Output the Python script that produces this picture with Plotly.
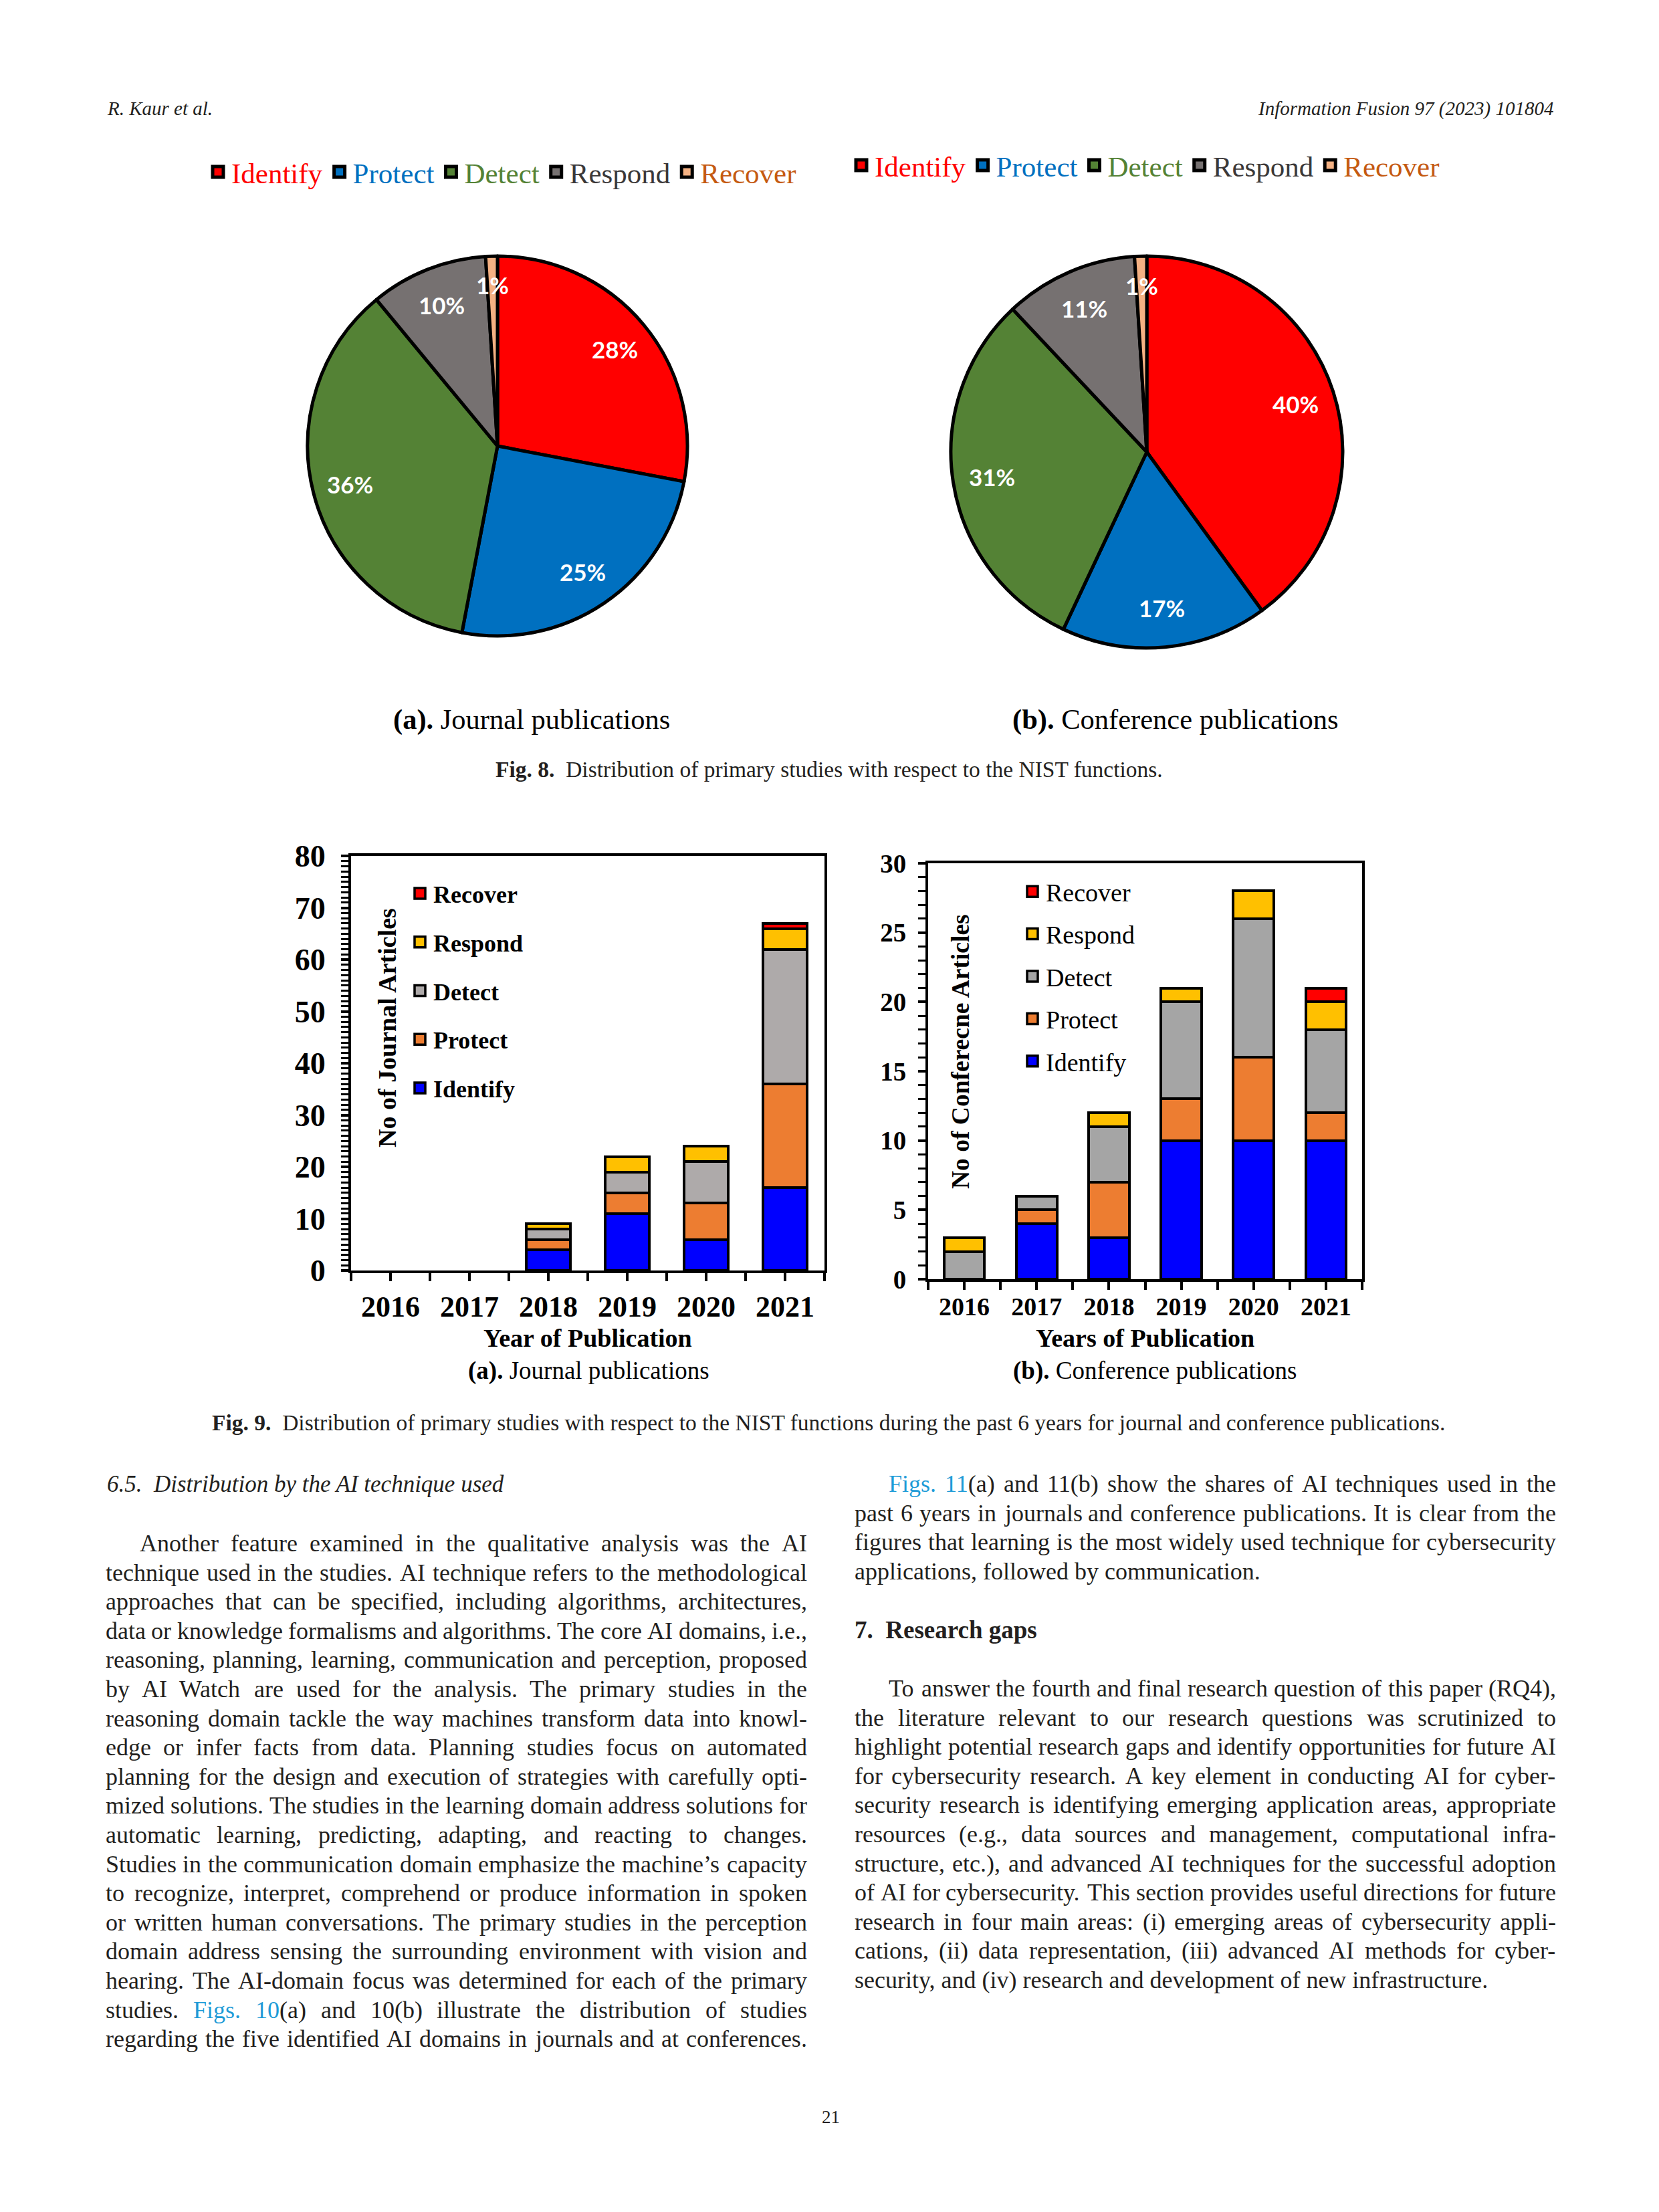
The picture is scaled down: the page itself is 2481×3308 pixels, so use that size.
import math
import re
import plotly.graph_objects as go

W, H = 2481, 3308

# ---------------- data ----------------
functions = ["Identify", "Protect", "Detect", "Respond", "Recover"]
journal_share = [28, 25, 36, 10, 1]
conference_share = [40, 17, 31, 11, 1]

years = [2016, 2017, 2018, 2019, 2020, 2021]
journal_identify = [0, 0, 4, 11, 6, 16]
journal_protect = [0, 0, 2, 4, 7, 20]
journal_detect = [0, 0, 2, 4, 8, 26]
journal_respond = [0, 0, 1, 3, 3, 4]
journal_recover = [0, 0, 0, 0, 0, 1]

conf_identify = [0, 4, 3, 10, 10, 10]
conf_protect = [0, 1, 4, 3, 6, 2]
conf_detect = [2, 1, 4, 7, 10, 6]
conf_respond = [1, 0, 1, 1, 2, 2]
conf_recover = [0, 0, 0, 0, 0, 1]

# ---------------- styles ----------------
pie_colors = ["#FF0000", "#0070C0", "#548235", "#767171", "#F4B183"]
pie_text_colors = ["#FF0000", "#0070C0", "#548235", "#3B3838", "#C55A11"]
bar_colors_a = ["#0000FF", "#ED7D31", "#AEAAAA", "#FFC000", "#FF0000"]
bar_colors_b = ["#0000FF", "#ED7D31", "#A5A5A5", "#FFC000", "#FF0000"]
SERIF = "Liberation Serif"
TXT = "#231F20"
LINK = "#1D9BD7"

# Times (Liberation Serif) advance widths, 1/1000 em
TW = {' ': 250, '!': 333, '"': 408, '#': 500, '$': 500, '%': 833, '&': 778, "'": 180,
      '(': 333, ')': 333, '*': 500, '+': 564, ',': 250, '-': 333, '.': 250, '/': 278,
      ':': 278, ';': 278, '<': 564, '=': 564, '>': 564, '?': 444, '@': 921,
      'A': 722, 'B': 667, 'C': 667, 'D': 722, 'E': 611, 'F': 556, 'G': 722, 'H': 722,
      'I': 333, 'J': 389, 'K': 722, 'L': 611, 'M': 889, 'N': 722, 'O': 722, 'P': 556,
      'Q': 722, 'R': 667, 'S': 556, 'T': 611, 'U': 722, 'V': 722, 'W': 944, 'X': 722,
      'Y': 722, 'Z': 611, '[': 333, ']': 333, 'a': 444, 'b': 500, 'c': 444, 'd': 500,
      'e': 444, 'f': 333, 'g': 500, 'h': 500, 'i': 278, 'j': 278, 'k': 500, 'l': 278,
      'm': 778, 'n': 500, 'o': 500, 'p': 500, 'q': 500, 'r': 333, 's': 389, 't': 278,
      'u': 500, 'v': 500, 'w': 722, 'x': 500, 'y': 500, 'z': 444, '\u2019': 333}


def tw(s, size):
    return sum(TW.get(ch, 500) for ch in s) * size / 1000


def px(x):
    return x / W


def py(y):
    return 1 - y / H


fig = go.Figure()
annotations = []


def add_text(text, x, y, size, xanchor="left", yanchor="middle", color=TXT,
             family=SERIF, angle=0, weight=None, style=None):
    f = dict(family=family, size=size, color=color)
    if weight:
        f["weight"] = weight
    if style:
        f["style"] = style
    annotations.append(dict(text=text, x=px(x), y=py(y), xref="paper", yref="paper",
                            xanchor=xanchor, yanchor=yanchor, showarrow=False,
                            font=f, textangle=angle))


def markup(word):
    return re.sub(r"\{([^}]*)\}", lambda m: f"<span style='color:{LINK}'>{m.group(1)}</span>", word)


def plain(word):
    return word.replace("{", "").replace("}", "")


def body_line(line, x0, x1, y, size, justify=True):
    if not justify:
        add_text(markup(line), x0, y, size)
        return
    words = line.split(" ")
    widths = [tw(plain(w), size) for w in words]
    gap = (x1 - x0 - sum(widths)) / max(len(words) - 1, 1)
    x = x0
    for w, wd in zip(words, widths):
        add_text(markup(w), x, y, size)
        x += wd + gap


def legend_entry(name, color, legend, size, lw, rank, group=None, xaxis="x", yaxis="y"):
    fig.add_trace(go.Scatter(
        x=[None], y=[None], mode="markers", name=name, xaxis=xaxis, yaxis=yaxis,
        marker=dict(symbol="square", size=size, color=color, line=dict(color="black", width=lw)),
        legend=legend, legendgroup=group, legendrank=rank, showlegend=True, hoverinfo="skip"))


# ---------------- pies ----------------
pies = [
    (journal_share, (744, 667), 284, "legend"),
    (conference_share, (1715, 676), 293, "legend2"),
]
for values, (cx, cy), R, leg in pies:
    fig.add_trace(go.Pie(
        labels=functions, values=values, sort=False, direction="clockwise", rotation=0,
        marker=dict(colors=pie_colors, line=dict(color="black", width=5)),
        textinfo="none", hoverinfo="label+value", showlegend=False,
        domain=dict(x=[px(cx - R), px(cx + R)], y=[py(cy + R), py(cy - R)]),
    ))
    for i, (f, c, tc) in enumerate(zip(functions, pie_colors, pie_text_colors)):
        legend_entry(f"<span style='color:{tc}'>{f}</span>", c, leg, 16, 6, 10 + i)
    total = sum(values)
    cum = 0
    for v in values:
        mid = (cum + v / 2) / total * 2 * math.pi
        fr = 0.80 if v > 2 else 0.85
        lx = cx + fr * R * math.sin(mid)
        ly = cy - fr * R * math.cos(mid)
        add_text(f"{v}%", lx, ly, 35, xanchor="center", color="white", family="Lato", weight="bold")
        cum += v

# ---------------- stacked bars ----------------
series_a = [journal_identify, journal_protect, journal_detect, journal_respond, journal_recover]
series_b = [conf_identify, conf_protect, conf_detect, conf_respond, conf_recover]
for i, (name, vals, col) in enumerate(zip(functions, series_a, bar_colors_a)):
    fig.add_trace(go.Bar(x=years, y=[v if v else None for v in vals], name=name, xaxis="x", yaxis="y",
                         marker=dict(color=col, line=dict(color="black", width=4)),
                         legendgroup="a" + name, showlegend=False))
    legend_entry(name, col, "legend3", 16, 3.5, 100 - 10 * i, group="a" + name)
for i, (name, vals, col) in enumerate(zip(functions, series_b, bar_colors_b)):
    fig.add_trace(go.Bar(x=years, y=[v if v else None for v in vals], name=name, xaxis="x2", yaxis="y2",
                         marker=dict(color=col, line=dict(color="black", width=4)),
                         legendgroup="b" + name, showlegend=False))
    legend_entry(name, col, "legend4", 16, 3.5, 100 - 10 * i, group="b" + name,
                 xaxis="x2", yaxis="y2")


def xax(domain, anchor, size, standoff):
    return dict(domain=domain, anchor=anchor, range=[2015.5, 2021.5], tickvals=years,
                ticktext=[str(y) for y in years], ticks="outside", ticklen=12, tickwidth=4,
                tickcolor="black", showline=True, mirror=True, linewidth=4, linecolor="black",
                showgrid=False, zeroline=False, ticklabelstandoff=standoff,
                tickfont=dict(family=SERIF, size=size, color="black", weight="bold"),
                minor=dict(tick0=2015.5, dtick=0.5, ticks="outside", ticklen=12, tickwidth=4,
                           tickcolor="black", showgrid=False))


def yax(domain, anchor, top, step, size, standoff):
    return dict(domain=domain, anchor=anchor, range=[0, top], tick0=0, dtick=step,
                ticks="outside", ticklen=11, tickwidth=4, tickcolor="black",
                showline=True, mirror=True, linewidth=4, linecolor="black",
                showgrid=False, zeroline=False, ticklabelstandoff=standoff,
                tickfont=dict(family=SERIF, size=size, color="black", weight="bold"),
                minor=dict(tick0=0, dtick=1, ticks="outside", ticklen=11, tickwidth=3,
                           tickcolor="black", showgrid=False))


fig.update_layout(
    xaxis=xax([px(525), px(1233)], "y", 44, 0),
    yaxis=yax([py(1900), py(1280)], "x", 80, 10, 46, 14),
    xaxis2=xax([px(1388), px(2037)], "y2", 38, -8),
    yaxis2=yax([py(1913), py(1291)], "x2", 30, 5, 39, 10),
    barmode="stack", bargap=0.44,
)

# ---------------- legends ----------------
fig.update_layout(
    legend=dict(orientation="h", x=px(306), y=py(257), xanchor="left", yanchor="middle",
                font=dict(family=SERIF, size=43, color="black"), bgcolor="rgba(0,0,0,0)",
                itemwidth=30, traceorder="normal"),
    legend2=dict(orientation="h", x=px(1268), y=py(247), xanchor="left", yanchor="middle",
                 font=dict(family=SERIF, size=43, color="black"), bgcolor="rgba(0,0,0,0)",
                 itemwidth=30, traceorder="normal"),
    legend3=dict(x=px(608), y=py(1306), xanchor="left", yanchor="top",
                 font=dict(family=SERIF, size=36, color="black", weight="bold"),
                 traceorder="grouped", tracegroupgap=23, bgcolor="rgba(0,0,0,0)"),
    legend4=dict(x=px(1524), y=py(1302), xanchor="left", yanchor="top",
                 font=dict(family=SERIF, size=38, color="black"),
                 traceorder="grouped", tracegroupgap=11, bgcolor="rgba(0,0,0,0)"),
)

# ---------------- chart texts ----------------
add_text("<b>(a).</b> Journal publications", 795, 1076, 42.5, xanchor="center", color="black")
add_text("<b>(b).</b> Conference publications", 1757, 1076, 42.5, xanchor="center", color="black")
add_text("No of Journal Articles", 579, 1537, 38, xanchor="center", color="black", angle=-90, weight="bold")
add_text("No of Conferecne Articles", 1436, 1573, 37.5, xanchor="center", color="black", angle=-90, weight="bold")
add_text("Year of Publication", 879, 2001, 38, xanchor="center", color="black", weight="bold")
add_text("Years of Publication", 1712, 2001, 38, xanchor="center", color="black", weight="bold")
add_text("<b>(a).</b> Journal publications", 880, 2050, 37, xanchor="center", color="black")
add_text("<b>(b).</b> Conference publications", 1727, 2050, 37, xanchor="center", color="black")

# ---------------- page texts ----------------
add_text("R. Kaur et al.", 158, 162, 29, style="italic")
add_text("Information Fusion 97 (2023) 101804", 2325, 162, 29, xanchor="right", style="italic")
add_text("<b>Fig. 8.</b>  Distribution of primary studies with respect to the NIST functions.",
         1240, 1150, 33.5, xanchor="center")
add_text("<b>Fig. 9.</b>  Distribution of primary studies with respect to the NIST functions during the past 6 years for journal and conference publications.",
         1239, 2127, 33.5, xanchor="center")

BODY = 36
LX0, LX1 = 156, 1205
RX0, RX1 = 1276, 2325
INDENT = 51

add_text("6.5.  Distribution by the AI technique used", 158, 2219, 35, style="italic")
left_lines = [
    "Another feature examined in the qualitative analysis was the AI",
    "technique used in the studies. AI technique refers to the methodological",
    "approaches that can be specified, including algorithms, architectures,",
    "data or knowledge formalisms and algorithms. The core AI domains, i.e.,",
    "reasoning, planning, learning, communication and perception, proposed",
    "by AI Watch are used for the analysis. The primary studies in the",
    "reasoning domain tackle the way machines transform data into knowl-",
    "edge or infer facts from data. Planning studies focus on automated",
    "planning for the design and execution of strategies with carefully opti-",
    "mized solutions. The studies in the learning domain address solutions for",
    "automatic learning, predicting, adapting, and reacting to changes.",
    "Studies in the communication domain emphasize the machine\u2019s capacity",
    "to recognize, interpret, comprehend or produce information in spoken",
    "or written human conversations. The primary studies in the perception",
    "domain address sensing the surrounding environment with vision and",
    "hearing. The AI-domain focus was determined for each of the primary",
    "studies. {Figs.} {10}(a) and 10(b) illustrate the distribution of studies",
    "regarding the five identified AI domains in journals and at conferences.",
]
for i, line in enumerate(left_lines):
    body_line(line, LX0 + (INDENT if i == 0 else 0), LX1, 2308 + i * 43.6, BODY)

right_lines1 = [
    "{Figs.} {11}(a) and 11(b) show the shares of AI techniques used in the",
    "past 6 years in journals and conference publications. It is clear from the",
    "figures that learning is the most widely used technique for cybersecurity",
    "applications, followed by communication.",
]
for i, line in enumerate(right_lines1):
    body_line(line, RX0 + (INDENT if i == 0 else 0), RX1, 2219 + i * 43.6, BODY,
              justify=(i < len(right_lines1) - 1))

add_text("<b>7.  Research gaps</b>", 1276, 2437, 37)
right_lines2 = [
    "To answer the fourth and final research question of this paper (RQ4),",
    "the literature relevant to our research questions was scrutinized to",
    "highlight potential research gaps and identify opportunities for future AI",
    "for cybersecurity research. A key element in conducting AI for cyber-",
    "security research is identifying emerging application areas, appropriate",
    "resources (e.g., data sources and management, computational infra-",
    "structure, etc.), and advanced AI techniques for the successful adoption",
    "of AI for cybersecurity. This section provides useful directions for future",
    "research in four main areas: (i) emerging areas of cybersecurity appli-",
    "cations, (ii) data representation, (iii) advanced AI methods for cyber-",
    "security, and (iv) research and development of new infrastructure.",
]
for i, line in enumerate(right_lines2):
    body_line(line, RX0 + (INDENT if i == 0 else 0), RX1, 2525 + i * 43.6, BODY,
              justify=(i < len(right_lines2) - 1))

add_text("21", 1242, 3166, 27, xanchor="center")

fig.update_layout(
    width=W, height=H, margin=dict(l=0, r=0, t=0, b=0, autoexpand=False),
    paper_bgcolor="white", plot_bgcolor="white", showlegend=True,
    annotations=annotations,
)

fig.write_html("out.html", config={"displayModeBar": False},
               post_script="document.body.style.margin='0';document.body.style.overflow='hidden';")
